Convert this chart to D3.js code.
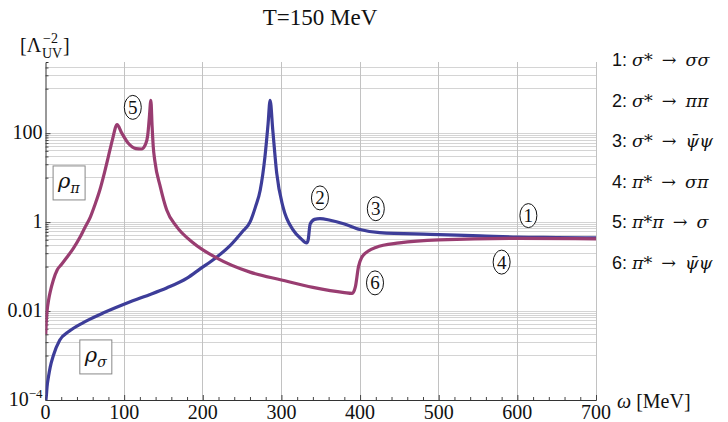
<!DOCTYPE html>
<html><head><meta charset="utf-8">
<script src="https://cdn.jsdelivr.net/npm/d3@7"></script>
<style>body{margin:0;background:#fff}svg{display:block}</style>
</head><body>
<svg id="c" width="728" height="422"></svg>
<script>
// ---- data ----
const sigmaOmega = [0, 1, 2, 4, 6, 10, 18, 30, 48, 70, 99, 125, 154, 180, 197, 215, 235, 250, 260, 267, 273, 279, 283, 285.6, 289, 294, 302, 315, 325, 332, 334, 336.5, 342, 349, 362, 379, 400, 425, 489, 553, 600, 650, 700];
const sigmaRho   = [8e-5, 1.2e-4, 2e-4, 3.5e-4, 5.5e-4, 1e-3, 0.0022, 0.0035, 0.0055, 0.0085, 0.014, 0.021, 0.033, 0.055, 0.09, 0.15, 0.3, 0.6, 1.0, 2.2, 5.2, 29, 160, 550, 117, 12.6, 2.2, 0.66, 0.42, 0.34, 0.4, 0.9, 1.15, 1.2, 1.1, 0.92, 0.68, 0.58, 0.53, 0.49, 0.46, 0.45, 0.44];
const piOmega = [0.3, 1, 2, 4, 6, 10, 15, 20, 27, 35, 44, 50, 57, 63, 69, 75, 80, 85, 91, 97, 105, 115, 122, 127, 130, 132, 134, 135.5, 137, 139, 146, 154, 167, 188, 218, 260, 300, 340, 380, 390, 394, 398, 402, 410, 420, 450, 500, 600, 700];
const piRho   = [0.003, 0.006, 0.01, 0.018, 0.027, 0.05, 0.085, 0.11, 0.16, 0.25, 0.46, 0.75, 1.3, 2.5, 5.2, 13, 30, 70, 155, 100, 60, 45, 44, 55, 90, 220, 550, 150, 50, 24, 6.2, 1.9, 0.78, 0.34, 0.155, 0.075, 0.05, 0.034, 0.026, 0.025, 0.035, 0.1, 0.16, 0.22, 0.27, 0.34, 0.40, 0.43, 0.42];
const xTickValues = [0, 100, 200, 300, 400, 500, 600, 700];
const yTickValues = [1e-4, 1e-2, 1, 100];
const yTickLabels = ["10", "0.01", "1", "100"];
const legendNumbers = ["1:", "2:", "3:", "4:", "5:", "6:"];
const legendMath = ["σ* \u2009→\u2009 σσ", "σ* \u2009→\u2009 ππ", "σ* \u2009→\u2009 ψ̄ψ", "π* \u2009→\u2009 σπ", "π*π \u2009→\u2009 σ", "π* \u2009→\u2009 ψ̄ψ"];
const circleLabels = ["5", "2", "3", "1", "4", "6"];
const circleOmega = [111, 349, 420, 614, 580, 419];
const circleRho = [380, 3.5, 2.0, 1.4, 0.126, 0.043];
const title = "T=150 MeV";

// ---- scales ----
const svg = d3.select("#c");
const x = d3.scaleLinear().domain([0, 700]).range([45.5, 596]);
const y = d3.scaleLog().domain([1e-4, Math.pow(10, 3.6)]).range([400, 62]);
const blue = "#3d3d99", purple = "#993d71";

// gridlines
const hGrid = [];
[1e-4, 1e-2, 1, 100, 1e4].forEach(M => { for (let k = 1; k <= 10; k++) hGrid.push(k * M / 10); });
const hVis = hGrid.filter(v => v > 1e-4 * 1.0001 && v <= y.domain()[1]);
svg.append("g").selectAll("line").data(hVis).join("line")
  .attr("x1", x(0)).attr("x2", x(700)).attr("y1", d => y(d)).attr("y2", d => y(d))
  .attr("stroke", "#d4d4d4").attr("stroke-width", 1).attr("shape-rendering", "crispEdges");
svg.append("g").selectAll("line").data(xTickValues.slice(1)).join("line")
  .attr("x1", d => x(d)).attr("x2", d => x(d)).attr("y1", 62).attr("y2", 400)
  .attr("stroke", "#c2c2c2").attr("stroke-width", 1).attr("shape-rendering", "crispEdges");

// axes
const xAxis = d3.axisBottom(x).tickValues(d3.range(0, 701, 20)).tickSize(-3).tickFormat("");
const gx = svg.append("g").attr("transform", "translate(0,400)").call(xAxis);
gx.select(".domain").attr("stroke", "#333");
gx.selectAll(".tick line").attr("stroke", "#444").attr("y2", d => d % 100 === 0 ? -5 : -3);
svg.append("g").selectAll("text").data(xTickValues).join("text")
  .attr("x", d => x(d)).attr("y", 419).attr("text-anchor", "middle")
  .attr("font-family", "Liberation Serif, Times New Roman, serif").attr("font-size", 20).attr("fill", "#111")
  .text(d => d);

const gy = svg.append("g").attr("transform", `translate(${x(0)},0)`)
  .call(d3.axisLeft(y).tickValues(hVis.concat([1e-4])).tickSize(-3).tickFormat(""));
gy.select(".domain").attr("stroke", "#333");
gy.selectAll(".tick line").attr("stroke", "#444").attr("x2", d => yTickValues.some(m => Math.abs(d / m - 1) < 1e-6) ? 5 : 3);
const yl = svg.append("g").selectAll("text").data(yTickValues).join("text")
  .attr("x", x(0) - 3).attr("y", d => y(d) + 6).attr("text-anchor", "end")
  .attr("font-family", "Liberation Serif, Times New Roman, serif").attr("font-size", 20).attr("fill", "#111");
yl.each(function (d, i) {
  const t = d3.select(this);
  if (i === 0) {
    t.append("tspan").text(yTickLabels[0]);
    t.append("tspan").attr("font-size", 13).attr("dy", -8).text("−4");
  } else t.text(yTickLabels[i]);
});

// curves
svg.append("clipPath").attr("id", "pc").append("rect")
  .attr("x", x(0)).attr("y", 62).attr("width", x(700) - x(0)).attr("height", 338);
const line = d3.line().x(d => x(d[0])).y(d => y(d[1])).curve(d3.curveMonotoneX);
const sData = sigmaOmega.map((w, i) => [w, sigmaRho[i]]);
const pData = piOmega.map((w, i) => [w, piRho[i]]);
const cg = svg.append("g").attr("clip-path", "url(#pc)");
cg.append("path").attr("d", line(sData)).attr("fill", "none").attr("stroke", blue).attr("stroke-width", 3.2).attr("stroke-linejoin", "round");
cg.append("path").attr("d", line(pData)).attr("fill", "none").attr("stroke", purple).attr("stroke-width", 3.2).attr("stroke-linejoin", "round");

// circle labels
const cl = svg.append("g").selectAll("g").data(circleLabels).join("g")
  .attr("transform", (d, i) => `translate(${x(circleOmega[i])},${y(circleRho[i])})`);
cl.append("ellipse").attr("rx", 8.5).attr("ry", 12).attr("fill", "#fff").attr("stroke", "#111").attr("stroke-width", 1);
cl.append("text").attr("text-anchor", "middle").attr("y", 6.5)
  .attr("font-family", "Liberation Serif, Times New Roman, serif").attr("font-size", 19).attr("fill", "#111").text(d => d);

// rho boxes
function rhoBox(w, v, sub) {
  const g = svg.append("g").attr("transform", `translate(${x(w)},${y(v)})`);
  g.append("rect").attr("x", -16).attr("y", -17).attr("width", 32).attr("height", 34)
    .attr("fill", "#fff").attr("stroke", "#888").attr("stroke-width", 1);
  const t = g.append("text").attr("x", -11).attr("y", 5)
    .attr("font-family", "DejaVu Serif, serif").attr("font-style", "italic").attr("fill", "#111");
  t.append("tspan").attr("font-size", 21).text("ρ");
  t.append("tspan").attr("font-size", 14).attr("dy", 5).text(sub);
}
rhoBox(30, 7.6, "π");
rhoBox(64, 9.3e-4, "σ");

// title and axis labels
svg.append("text").attr("x", 320).attr("y", 25).attr("text-anchor", "middle")
  .attr("font-family", "Liberation Serif, Times New Roman, serif").attr("font-size", 23).attr("fill", "#111").text(title);
const ylab = svg.append("g").attr("font-family", "Liberation Serif, Times New Roman, serif").attr("fill", "#111");
ylab.append("text").attr("x", 20).attr("y", 52).attr("font-size", 20).text("[Λ");
ylab.append("text").attr("x", 42).attr("y", 58).attr("font-size", 14).text("UV");
ylab.append("text").attr("x", 43).attr("y", 43).attr("font-size", 14).text("−2");
ylab.append("text").attr("x", 63).attr("y", 52).attr("font-size", 20).text("]");
const xl = svg.append("text").attr("x", 617).attr("y", 408)
  .attr("font-family", "Liberation Serif, Times New Roman, serif").attr("font-size", 20).attr("fill", "#111");
xl.append("tspan").attr("font-style", "italic").text("ω");
xl.append("tspan").text(" [MeV]");

// legend
const lg = svg.append("g").selectAll("text").data(legendNumbers).join("text")
  .attr("x", 612).attr("y", (d, i) => 66 + i * 40.6).attr("fill", "#111");
lg.append("tspan").attr("font-family", "Liberation Sans, Arial, sans-serif").attr("font-size", 18).text(d => d + " ");
lg.append("tspan").attr("font-family", "DejaVu Serif, serif").attr("font-style", "italic").attr("font-size", 17.5)
  .text((d, i) => legendMath[i]);
</script>
</body></html>
